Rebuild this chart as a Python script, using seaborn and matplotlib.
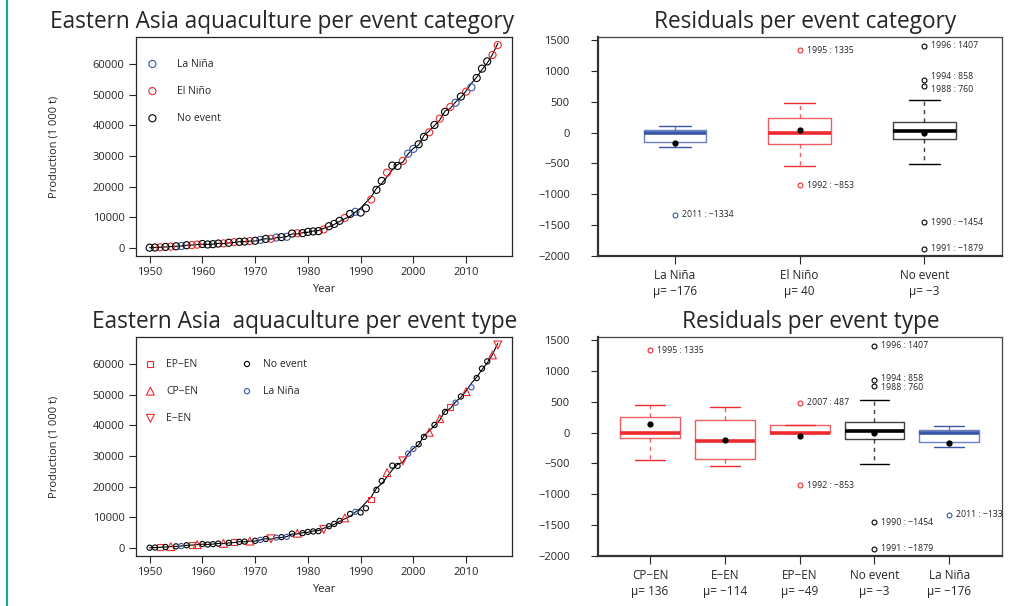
import numpy as np
import pandas as pd
import matplotlib
matplotlib.use('Agg')
import matplotlib.pyplot as plt
from matplotlib.lines import Line2D
import seaborn as sns
import warnings
warnings.filterwarnings('ignore')

sns.set_style('ticks')
plt.rcParams['font.family'] = ['Open Sans', 'DejaVu Sans']
plt.rcParams['axes.unicode_minus'] = True

# data: yearly production (1 000 t), event type and residual of the fitted trend
years = list(range(1950, 2017))
production = [150, 200, 300, 400, 500, 600, 700, 950, 1000, 1150,
              1350, 1200, 1300, 1500, 1550, 1750, 1950, 2050, 2150, 2300,
              2400, 2700, 3000, 3050, 3450, 3600, 3700, 4750, 4850, 4900,
              5300, 5450, 5550, 6100, 7150, 7900, 8900, 9850, 11150, 11850,
              11600, 13000, 15850, 19000, 21900, 24600, 26900, 26800, 28450, 30800,
              32350, 33850, 36250, 37750, 40150, 42200, 44400, 46000, 47400, 49400,
              51000, 52400, 55450, 58500, 60850, 62950, 66200]
event_type = ['No event', 'No event', 'EP−EN', 'No event', 'CP−EN', 'No event', 'La Niña', 'No event', 'EP−EN', 'CP−EN',
              'No event', 'No event', 'No event', 'No event', 'CP−EN', 'No event', 'EP−EN', 'No event', 'No event', 'CP−EN',
              'No event', 'La Niña', 'No event', 'E−EN', 'La Niña', 'No event', 'La Niña', 'No event', 'CP−EN', 'No event',
              'No event', 'No event', 'No event', 'E−EN', 'No event', 'No event', 'No event', 'CP−EN', 'No event', 'La Niña',
              'No event', 'No event', 'EP−EN', 'No event', 'No event', 'CP−EN', 'No event', 'No event', 'E−EN', 'La Niña',
              'La Niña', 'No event', 'No event', 'CP−EN', 'No event', 'CP−EN', 'No event', 'EP−EN', 'La Niña', 'No event',
              'CP−EN', 'La Niña', 'No event', 'No event', 'No event', 'CP−EN', 'E−EN']
residual = [0, 8, 0, 15, -10, 20, -10, 24, -5, -10,
            35, -10, -25, -40, 81, 50, 120, -60, 65, -10,
            80, 10, -82, 127, 50, 100, -80, 120, 230, -110,
            140, -140, -180, -393, 164, 176, 190, 270, 760, 100,
            -1454, -1879, -853, -514, 858, 1335, 1407, -470, 420, 60,
            -150, 200, -382, -440, 230, 450, -290, 487, -230, 260,
            -230, -1334, -230, 320, 530, -170, -540]

cat_order = ['La Niña', 'El Niño', 'No event']
cat_means = [-176, 40, -3]
type_order = ['CP−EN', 'E−EN', 'EP−EN', 'No event', 'La Niña']
type_means = [136, -114, -49, -3, -176]
legend_types = ['EP−EN', 'CP−EN', 'E−EN', 'No event', 'La Niña']

BLUE = '#3a56a8'
RED = '#ee2a2e'
cat_colors = {'La Niña': BLUE, 'El Niño': RED, 'No event': 'black'}
type_colors = {'CP−EN': RED, 'E−EN': RED, 'EP−EN': RED, 'No event': 'black', 'La Niña': BLUE}
cat_markers = {c: 'o' for c in cat_order}
cat_sizes = {c: 26 for c in cat_order}
type_markers = {'EP−EN': 's', 'CP−EN': '^', 'E−EN': 'v', 'No event': 'o', 'La Niña': 'o'}
type_sizes = {'EP−EN': 18, 'CP−EN': 32, 'E−EN': 32, 'No event': 14, 'La Niña': 14}

df = pd.DataFrame({'year': years, 'production': production,
                   'residual': residual, 'type': event_type})
df['category'] = df['type'].replace({'CP−EN': 'El Niño', 'E−EN': 'El Niño', 'EP−EN': 'El Niño'})
df['fitted'] = df['production'] - df['residual']

fig = plt.figure(figsize=(10.22, 6.06), dpi=100)
ax1 = fig.add_axes([0.1328, 0.5776, 0.3679, 0.3608])
ax2 = fig.add_axes([0.5848, 0.5776, 0.3953, 0.3608])
ax3 = fig.add_axes([0.1328, 0.0825, 0.3679, 0.3609])
ax4 = fig.add_axes([0.5848, 0.0825, 0.3953, 0.3609])

fig.add_artist(Line2D([0.0065, 0.0065], [0, 1], color='#1aa3a3', lw=1.6,
                      transform=fig.transFigure))


def production_panel(ax, col, groups, colors, markers, sizes, title, title_x):
    sns.lineplot(data=df, x='year', y='fitted', color='black', lw=0.8, ax=ax)
    for g in groups:
        sub = df[df[col] == g]
        sns.scatterplot(data=sub, x='year', y='production', marker=markers[g],
                        s=sizes[g], facecolors='none', edgecolor=colors[g],
                        linewidth=0.8, label=g, ax=ax, zorder=3)
    ax.set_xlim(1947.36, 2018.64)
    ax.set_ylim(-2550, 68700)
    ax.set_xticks(range(1950, 2011, 10))
    ax.set_yticks(range(0, 60001, 10000))
    ax.set_xlabel('Year', fontsize=8, labelpad=4)
    ax.set_ylabel('Production (1 000 t)', fontsize=8, labelpad=24)
    ax.tick_params(direction='out', length=5, width=0.8, labelsize=8, pad=3)
    ax.set_title(title, fontsize=16.3, x=title_x, pad=7)
    for s in ax.spines.values():
        s.set_linewidth(0.9)


production_panel(ax1, 'category', cat_order, cat_colors, cat_markers, cat_sizes,
                 'Eastern Asia aquaculture per event category', 0.39)
ax1.legend(loc='upper left', bbox_to_anchor=(0.0, 0.95), frameon=False, fontsize=7.5,
           labelspacing=1.55, handlelength=1.2, handletextpad=1.8, borderaxespad=0.6)

production_panel(ax3, 'type', legend_types, type_colors, type_markers, type_sizes,
                 'Eastern Asia  aquaculture per event type', 0.448)
ax3.legend(loc='upper left', bbox_to_anchor=(0.003, 0.94), frameon=False, fontsize=7.5,
           ncol=2, labelspacing=1.55, handlelength=1.0, handletextpad=1.0,
           columnspacing=4.2, borderaxespad=0.4)


def residual_panel(ax, col, order, colors, means, width, title, title_x, min_gap):
    sns.boxplot(data=df, x=col, y='residual', order=order, hue=col, hue_order=order,
                palette=colors, fill=False, width=width, whis=1.5, linewidth=1.0,
                legend=False, ax=ax,
                medianprops={'linewidth': 2.6},
                whiskerprops={'linestyle': (0, (3, 3)), 'alpha': 0.75},
                boxprops={'alpha': 0.75},
                flierprops={'marker': 'o', 'markersize': 3.5, 'markeredgewidth': 0.8})
    sns.stripplot(x=order, y=means, order=order, jitter=False, color='black',
                  size=4.5, ax=ax, zorder=6)
    # label the outliers as year : residual
    for i, c in enumerate(order):
        sub = df[df[col] == c]
        q1, q3 = np.percentile(sub['residual'], [25, 75])
        iqr = q3 - q1
        out = sub[(sub['residual'] < q1 - 1.5 * iqr) | (sub['residual'] > q3 + 1.5 * iqr)]
        out = out.sort_values('residual')
        ypos = list(out['residual'].astype(float))
        for k in range(1, len(ypos)):
            gap = ypos[k] - ypos[k - 1]
            if gap < min_gap:
                ypos[k - 1] -= (min_gap - gap) / 2
                ypos[k] += (min_gap - gap) / 2
        for (_, r), yp in zip(out.iterrows(), ypos):
            txt = f"{r['year']} : {r['residual']}".replace('-', '−')
            ax.annotate(txt, (i, yp), xytext=(5, 0), textcoords='offset points',
                        va='center', ha='left', fontsize=6.3, clip_on=True)
    n = len(order)
    ax.set_xlim(-0.5 - 0.04 * n, n - 0.5 + 0.04 * n)
    ax.set_ylim(-2000, 1545)
    ax.set_yticks(range(-2000, 1501, 500))
    ax.set_xticks(range(n))
    ax.set_xticklabels([f"{o}\nμ= {m}".replace('-', '−') for o, m in zip(order, means)],
                       fontsize=8.5, linespacing=1.25)
    ax.set_xlabel('')
    ax.set_ylabel('')
    ax.tick_params(axis='y', direction='out', length=5, width=0.8, labelsize=8, pad=15)
    ax.tick_params(axis='x', direction='out', length=5.5, width=0.8, pad=4)
    ax.set_title(title, fontsize=16.3, x=title_x, pad=7)
    for s in ['top', 'right']:
        ax.spines[s].set_linewidth(0.9)
        ax.spines[s].set_color('#444444')
    for s in ['left', 'bottom']:
        ax.spines[s].set_linewidth(1.6)
        ax.spines[s].set_color('#333333')


residual_panel(ax2, 'category', cat_order, cat_colors, cat_means, 0.5,
               'Residuals per event category', 0.513, 210)
residual_panel(ax4, 'type', type_order, type_colors, type_means, 0.8,
               'Residuals per event type', 0.528, 140)

plt.savefig('out.png', dpi=100)
plt.close()
